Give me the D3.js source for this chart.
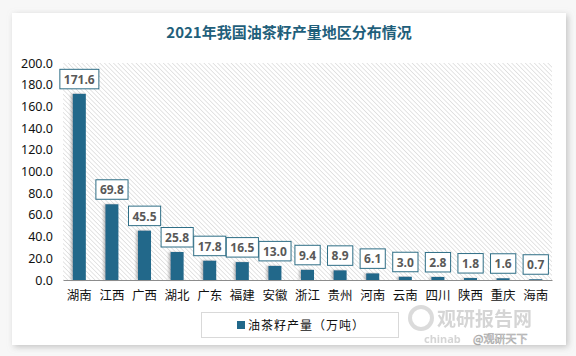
<!DOCTYPE html>
<html><head><meta charset="utf-8">
<script src="https://cdn.jsdelivr.net/npm/d3@7"></script>
<style>
html,body{margin:0;padding:0;background:#f7f7f7;}
svg{display:block;}
</style></head>
<body>
<script>
const categories = ["湖南","江西","广西","湖北","广东","福建","安徽","浙江","贵州","河南","云南","四川","陕西","重庆","海南"];
const values = [171.6,69.8,45.5,25.8,17.8,16.5,13.0,9.4,8.9,6.1,3.0,2.8,1.8,1.6,0.7];
const yTicks = [0,20,40,60,80,100,120,140,160,180,200];
const title = "2021年我国油茶籽产量地区分布情况";
const seriesName = "油茶籽产量（万吨）";

const W = 576, H = 356;
const svg = d3.select("body").append("svg").attr("width", W).attr("height", H);
const defs = svg.append("defs");

const sh = defs.append("filter").attr("id","cardShadow").attr("x","-10%").attr("y","-10%").attr("width","120%").attr("height","120%");
sh.append("feDropShadow").attr("dx",2).attr("dy",2).attr("stdDeviation",3).attr("flood-color","#999").attr("flood-opacity",0.55);

const bs = defs.append("filter").attr("id","barShadow").attr("x","-50%").attr("y","-10%").attr("width","200%").attr("height","120%");
bs.append("feDropShadow").attr("dx",-2).attr("dy",0).attr("stdDeviation",1.2).attr("flood-color","#777").attr("flood-opacity",0.45);

const pat = defs.append("pattern").attr("id","hatch").attr("patternUnits","userSpaceOnUse")
  .attr("width",3.2).attr("height",3.2).attr("patternTransform","rotate(-45)");
pat.append("rect").attr("width",3.2).attr("height",3.2).attr("fill","#ffffff");
pat.append("line").attr("x1",0).attr("y1",0).attr("x2",0).attr("y2",3.2).attr("stroke","#d4d4d4").attr("stroke-width",1.2);

// card
svg.append("rect").attr("x",12).attr("y",13).attr("width",554).attr("height",332)
  .attr("fill","#fff").attr("filter","url(#cardShadow)");

svg.append("text").attr("x",289).attr("y",38).attr("text-anchor","middle")
  .attr("font-family","'Noto Sans CJK SC','Noto Sans',sans-serif").attr("font-weight","bold")
  .attr("font-size",15).attr("fill","#1f5f7b").text(title);

const x = d3.scaleBand().domain(categories).range([63,552]).paddingInner(0.6).paddingOuter(0.3);
const y = d3.scaleLinear().domain([0,200]).range([280,63]);

svg.append("rect").attr("x",63).attr("y",y(200)).attr("width",552-63).attr("height",y(0)-y(200)).attr("fill","url(#hatch)");

// y axis
const yAxis = svg.append("g").attr("transform","translate(63,0)")
  .call(d3.axisLeft(y).tickValues(yTicks).tickFormat(d3.format(".1f")).tickSize(0).tickPadding(10));
yAxis.select(".domain").remove();
yAxis.selectAll("text").attr("font-family","'Noto Sans',sans-serif").attr("font-size",12.5).attr("fill","#111");

// bars
svg.append("g").selectAll("rect").data(values).join("rect")
  .attr("x",(d,i)=>x(categories[i])).attr("y",d=>y(d))
  .attr("width",x.bandwidth()).attr("height",d=>y(0)-y(d))
  .attr("fill","#21688a").attr("filter","url(#barShadow)");

// x axis
const xAxis = svg.append("g").attr("transform","translate(0,280)")
  .call(d3.axisBottom(x).tickSize(0).tickPadding(11));
xAxis.select(".domain").attr("stroke","#8c8c8c").attr("stroke-width",1.2);
xAxis.selectAll("text").attr("font-family","'Noto Sans CJK SC',sans-serif").attr("font-size",12.5).attr("fill","#111");

// labels
const lg = svg.append("g");
values.forEach((v,i)=>{
  const cx = x(categories[i]) + x.bandwidth()/2;
  const t = lg.append("text").attr("x",cx).attr("y",y(v)-10).attr("text-anchor","middle")
    .attr("font-family","'Open Sans','Noto Sans',sans-serif").attr("font-weight","bold")
    .attr("font-size",12).attr("fill","#595959").text(v.toFixed(1));
  const bb = t.node().getBBox();
  lg.insert("rect", function(){return t.node();})
    .attr("x",bb.x-4).attr("y",y(v)-24.5).attr("width",bb.width+8).attr("height",19.5)
    .attr("fill","#fff").attr("stroke","#2e6e86").attr("stroke-width",1);
});

// legend
svg.append("rect").attr("x",201.5).attr("y",312.5).attr("width",197).attr("height",25)
  .attr("fill","#fff").attr("stroke","#d9d9d9");
svg.append("rect").attr("x",237).attr("y",321).attr("width",8).attr("height",8).attr("fill","#21688a");
svg.append("text").attr("x",248).attr("y",329.5).attr("font-family","'Noto Sans CJK SC',sans-serif")
  .attr("font-size",12).attr("letter-spacing",1).attr("fill","#111").text(seriesName);

// watermark
const wm = svg.append("g").attr("opacity",0.35);
wm.append("circle").attr("cx",421).attr("cy",318).attr("r",11).attr("fill","none").attr("stroke","#999").attr("stroke-width",4);
wm.append("text").attr("x",437).attr("y",326).attr("font-family","'Noto Sans CJK SC',sans-serif")
  .attr("font-weight","bold").attr("font-size",19).attr("fill","#888").text("观研报告网");
wm.append("text").attr("x",424).attr("y",343).attr("font-family","'Noto Sans',sans-serif")
  .attr("font-weight","bold").attr("font-size",11).attr("fill","#888").text("chinab");
svg.append("text").attr("x",473).attr("y",343).attr("font-family","'Noto Sans CJK SC',sans-serif")
  .attr("font-size",11).attr("fill","#fff").attr("stroke","#aaa").attr("stroke-width",0.6).text("@观研天下");
</script>
</body></html>
